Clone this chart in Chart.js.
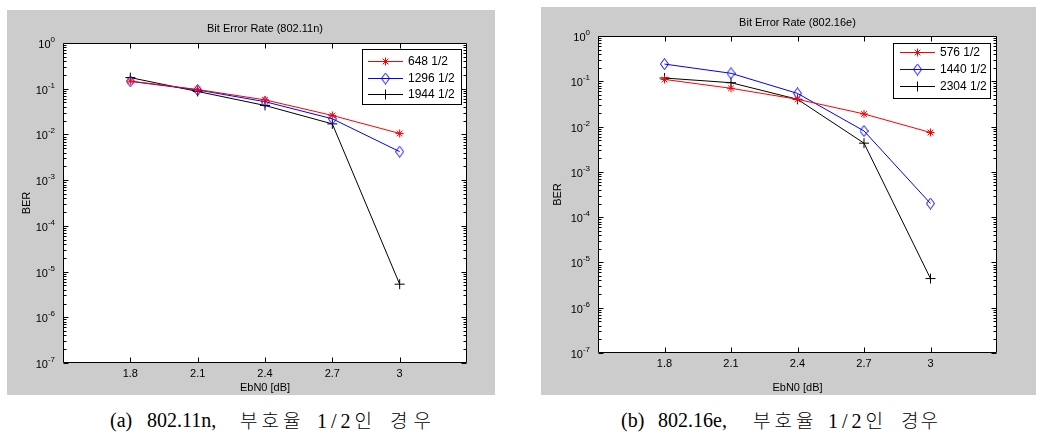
<!DOCTYPE html>
<html><head><meta charset="utf-8">
<script src="https://cdn.jsdelivr.net/npm/chart.js@4.4.1/dist/chart.umd.min.js"></script>
<style>
body{margin:0;background:#fff;width:1043px;height:439px;overflow:hidden;position:relative;}
.panel{position:absolute;background:#cccccc;}
canvas{display:block;}
.cap{position:absolute;height:24px;width:340px;font-family:"Liberation Serif","Noto Sans CJK KR",serif;font-size:20px;line-height:24px;white-space:pre;color:#000;}
.cap span{position:absolute;top:0;}
.ko{font-family:"Noto Sans CJK KR",sans-serif;font-weight:300;font-size:19px;}
</style></head><body>
<div class="panel" style="left:7px;top:10px;width:488px;height:385px"><canvas id="ca" width="488" height="385"></canvas></div>
<div class="panel" style="left:541px;top:7px;width:495px;height:388px"><canvas id="cb" width="495" height="388"></canvas></div>
<div class="cap" style="left:110px;top:408px"><span style="left:0">(a)</span><span style="left:37px">802.11n,</span><span class="ko" style="left:130px;letter-spacing:4px">부호율</span><span style="left:207px;letter-spacing:4px">1/2<span class="ko" style="position:static;letter-spacing:0">인</span></span><span class="ko" style="left:280px;letter-spacing:6px">경우</span></div>
<div class="cap" style="left:621px;top:408px"><span style="left:0">(b)</span><span style="left:37px">802.16e,</span><span class="ko" style="left:132px;letter-spacing:4px">부호율</span><span style="left:207px;letter-spacing:4px">1/2<span class="ko" style="position:static;letter-spacing:0">인</span></span><span class="ko" style="left:280px;letter-spacing:2px">경우</span></div>
<script>
// ---- data ----
const ebn0 = [1.8, 2.1, 2.4, 2.7, 3.0];
const xTicks = [1.8, 2.1, 2.4, 2.7, 3];
const yTicks = [1e-7, 1e-6, 1e-5, 1e-4, 1e-3, 1e-2, 1e-1, 1];

const labelsA = ['648 1/2', '1296 1/2', '1944 1/2'];
const ber648  = [0.147, 0.096, 0.057, 0.026, 0.0105];
const ber1296 = [0.145, 0.094, 0.052, 0.022, 0.0042];
const ber1944 = [0.175, 0.087, 0.043, 0.0170, 5.3e-6];

const labelsB = ['576 1/2', '1440 1/2', '2304 1/2'];
const ber576  = [0.110, 0.070, 0.040, 0.019, 0.0074];
const ber1440 = [0.240, 0.150, 0.054, 0.0080, 2.0e-4];
const ber2304 = [0.118, 0.093, 0.040, 0.0043, 4.4e-6];

// ---- styling ----
const FONT = "'Liberation Sans', 'DejaVu Sans', Arial, sans-serif";

function diamondImage(color){
  const c = document.createElement('canvas'); c.width = 9; c.height = 12;
  const g = c.getContext('2d'); g.strokeStyle = color; g.lineWidth = 1;
  g.beginPath(); g.moveTo(4.5,0.5); g.lineTo(8.5,6); g.lineTo(4.5,11.5); g.lineTo(0.5,6); g.closePath(); g.stroke();
  return c;
}
const diamond = diamondImage('#0000ff');

const frame = {
  id: 'matlabFrame',
  beforeDraw(chart){
    const {ctx, chartArea:a} = chart;
    ctx.save(); ctx.fillStyle = '#fff';
    ctx.fillRect(a.left, a.top, a.right - a.left, a.bottom - a.top);
    ctx.restore();
  },
  afterDraw(chart, args, o){
    const {ctx, chartArea:a, scales:{x, y}} = chart;
    ctx.save();
    ctx.strokeStyle = '#000'; ctx.lineWidth = 1;
    const L = Math.round(a.left)+0.5, R = Math.round(a.right)-0.5, T = Math.round(a.top)+0.5, B = Math.round(a.bottom)-0.5;
    ctx.beginPath();
    ctx.rect(L, T, R-L, B-T);
    xTicks.forEach(v=>{ const px = Math.round(x.getPixelForValue(v))+0.5;
      ctx.moveTo(px, B); ctx.lineTo(px, B-5); ctx.moveTo(px, T); ctx.lineTo(px, T+5); });
    for (let e=-7; e<=0; e++){
      for (let k=1; k<=9; k++){
        if (e===0 && k>1) break;
        const v = k*Math.pow(10,e);
        const py = Math.round(y.getPixelForValue(v))+0.5;
        const len = k===1 ? 5 : 3;
        ctx.moveTo(L, py); ctx.lineTo(L+len, py); ctx.moveTo(R, py); ctx.lineTo(R-len, py);
      }
    }
    ctx.stroke();
    // y tick labels: 10 with superscript exponent
    ctx.fillStyle = '#000'; ctx.textBaseline = 'alphabetic'; ctx.textAlign = 'left';
    yTicks.forEach(v=>{
      const py = y.getPixelForValue(v);
      const ex = String(Math.round(Math.log10(v)));
      ctx.font = '8px ' + FONT; const ew = ctx.measureText(ex).width;
      ctx.font = '11px ' + FONT; const bw = ctx.measureText('10').width;
      const right = a.left - 8;
      ctx.fillText('10', right - ew - bw, py + 5);
      ctx.font = '8px ' + FONT;
      ctx.fillText(ex, right - ew, py - 1);
    });
    // title
    ctx.fillStyle = '#000'; ctx.font = '11px ' + FONT; ctx.textAlign = 'center'; ctx.textBaseline = 'middle';
    ctx.fillText(o.title, (a.left + a.right)/2, o.titleY);
    // legend
    const lg = o.legend;
    ctx.fillStyle = '#fff'; ctx.fillRect(lg.x, lg.y, lg.w, lg.h);
    ctx.strokeStyle = '#000'; ctx.strokeRect(lg.x+0.5, lg.y+0.5, lg.w, lg.h);
    chart.data.datasets.forEach((ds, i)=>{
      const ry = lg.rows[i];
      ctx.strokeStyle = ds.borderColor; ctx.lineWidth = 1;
      ctx.beginPath(); ctx.moveTo(lg.lx1, Math.round(ry)+0.5); ctx.lineTo(lg.lx2, Math.round(ry)+0.5); ctx.stroke();
      ctx.fillStyle = 'transparent';
      Chart.helpers.drawPoint(ctx, {pointStyle: ds.pointStyle, radius: ds.pointRadius, rotation: 0, borderWidth: 1}, (lg.lx1+lg.lx2)/2, Math.round(ry)+0.5);
      ctx.fillStyle = '#000'; ctx.font = '12px ' + FONT; ctx.textAlign = 'left'; ctx.textBaseline = 'middle';
      ctx.fillText(ds.label, lg.tx, ry+0.5);
    });
    ctx.restore();
  }
};

function build(id, title, labels, values, geo){
  const colors = ['#ff0000', '#0000ff', '#000000'];
  const markers = ['star', diamond, 'cross'];
  const radii = [4, 5, 5];
  return new Chart(document.getElementById(id), {
    type: 'line',
    data: {
      datasets: values.map((vals, i)=>({
        label: labels[i],
        data: ebn0.map((xv, j)=>({x: xv, y: vals[j]})),
        borderColor: colors[i], backgroundColor: 'transparent', borderWidth: 1,
        pointStyle: markers[i], pointRadius: radii[i], pointBorderColor: colors[i],
        pointBackgroundColor: 'transparent', pointBorderWidth: 1, tension: 0, fill: false
      }))
    },
    options: {
      responsive: false, animation: false, devicePixelRatio: 1,
      layout: {padding: {top: geo.top, right: geo.right, left: 0, bottom: 0}},
      plugins: {
        legend: {display: false}, title: {display: false}, tooltip: {enabled: false},
        matlabFrame: {title: title, titleY: geo.titleY, legend: geo.legend}
      },
      scales: {
        x: {
          type: 'linear', min: 1.5, max: 3.3,
          afterBuildTicks: s => { s.ticks = xTicks.map(v=>({value: v})); },
          afterFit: s => { s.height = geo.xh; },
          grid: {display: false, drawTicks: false}, border: {display: false},
          ticks: {padding: geo.xpad, color: '#000', font: {family: FONT, size: 11}, maxRotation: 0, autoSkip: false, callback: v => String(v)},
          title: {display: true, text: 'EbN0 [dB]', color: '#000', font: {family: FONT, size: 11}, padding: {top: geo.xtp, bottom: 0}}
        },
        y: {
          type: 'logarithmic', min: 1e-7, max: 1,
          afterBuildTicks: s => { s.ticks = yTicks.map(v=>({value: v})); },
          afterFit: s => { s.width = geo.yw; },
          grid: {display: false, drawTicks: false}, border: {display: false},
          ticks: {display: false},
          title: {display: true, text: 'BER', color: '#000', font: {family: FONT, size: 11}, padding: {top: geo.ytp, bottom: 0}}
        }
      }
    },
    plugins: [frame]
  });
}

build('ca', 'Bit Error Rate (802.11n)', labelsA, [ber648, ber1296, ber1944], {
  top: 33, right: 28, yw: 56, xh: 32, xpad: 4, xtp: 0, ytp: 13, titleY: 19,
  legend: {x: 355, y: 39, w: 99, h: 55, rows: [51, 68, 84], lx1: 361, lx2: 396, tx: 401}
});
build('cb', 'Bit Error Rate (802.16e)', labelsB, [ber576, ber1440, ber2304], {
  top: 29, right: 39, yw: 57, xh: 42, xpad: 4, xtp: 8, ytp: 10, titleY: 16,
  legend: {x: 352, y: 36, w: 97, h: 55, rows: [45, 62, 79], lx1: 359, lx2: 394, tx: 399}
});
</script>
</body></html>
